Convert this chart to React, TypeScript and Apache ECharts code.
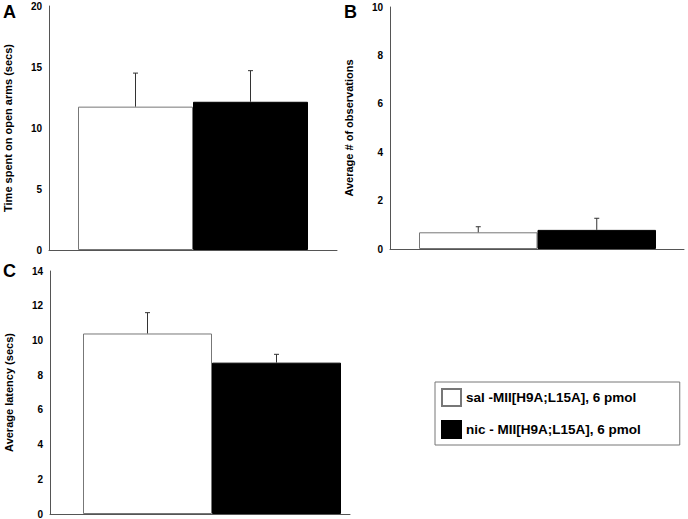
import React, { useEffect, useRef } from "react";
import * as echarts from "echarts";

const categories = ["sal -MII[H9A;L15A], 6 pmol", "nic - MII[H9A;L15A], 6 pmol"];
const panelLetters = ["A", "B", "C"];
const yNames = ["Time spent on open arms (secs)", "Average # of observations", "Average latency (secs)"];
const yMax = [20, 10, 14];
const yInterval = [5, 2, 2];
const salMeans = [11.75, 0.69, 10.4];
const salErrors = [2.75, 0.23, 1.2];
const nicMeans = [12.15, 0.79, 8.72];
const nicErrors = [2.55, 0.48, 0.48];

const FONT = "Liberation Sans";

// layout: axis grid and bar grid for each panel
const axisGrids = [
  { left: 49, top: 6, width: 288, height: 244 },
  { left: 390, top: 7, width: 294, height: 242 },
  { left: 50, top: 271, width: 300, height: 243 },
];
const barGrids = [
  { left: 78, top: 6, width: 230, height: 244 },
  { left: 419, top: 7, width: 237, height: 242 },
  { left: 83, top: 271, width: 258, height: 243 },
];
const letterPos = [
  { left: 3, top: 3 },
  { left: 344, top: 3 },
  { left: 3, top: 262 },
];

export default function App() {
  const ref = useRef<HTMLDivElement>(null);
  useEffect(() => {
    if (!ref.current) return;
    const chart = echarts.init(ref.current, null, { renderer: "svg" });
    const grid: any[] = [];
    const xAxis: any[] = [];
    const yAxis: any[] = [];
    const series: any[] = [];
    for (let p = 0; p < 3; p++) {
      grid.push({ ...axisGrids[p], containLabel: false });
      grid.push({ ...barGrids[p], containLabel: false });
      const gA = 2 * p;
      const gB = 2 * p + 1;
      xAxis.push({
        gridIndex: gA,
        type: "category",
        data: [""],
        axisLine: { show: true, lineStyle: { color: "#555", width: 1 } },
        axisTick: { show: false },
        axisLabel: { show: false },
      });
      xAxis.push({
        gridIndex: gB,
        type: "category",
        data: [""],
        show: false,
      });
      yAxis.push({
        gridIndex: gA,
        type: "value",
        min: 0,
        max: yMax[p],
        interval: yInterval[p],
        name: yNames[p],
        nameLocation: "middle",
        nameGap: 36,
        nameTextStyle: { fontFamily: FONT, fontWeight: "bold", fontSize: 11, color: "#000" },
        axisLine: { show: true, lineStyle: { color: "#555", width: 1 } },
        axisTick: { show: false },
        splitLine: { show: false },
        axisLabel: { fontFamily: FONT, fontWeight: "bold", fontSize: 10, color: "#000", margin: 7 },
      });
      yAxis.push({
        gridIndex: gB,
        type: "value",
        min: 0,
        max: yMax[p],
        show: false,
        splitLine: { show: false },
      });
      const xi = 2 * p + 1;
      series.push({
        type: "bar",
        name: categories[0],
        xAxisIndex: xi,
        yAxisIndex: xi,
        data: [salMeans[p]],
        barGap: "0%",
        barCategoryGap: "0%",
        itemStyle: { color: "#fff", borderColor: "#777", borderWidth: 1 },
      });
      series.push({
        type: "bar",
        name: categories[1],
        xAxisIndex: xi,
        yAxisIndex: xi,
        data: [nicMeans[p]],
        barGap: "0%",
        barCategoryGap: "0%",
        itemStyle: { color: "#000", borderColor: "#000", borderWidth: 1 },
      });
      const groups = [
        { m: salMeans[p], e: salErrors[p], side: -1, nm: "err-sal-" + p },
        { m: nicMeans[p], e: nicErrors[p], side: 1, nm: "err-nic-" + p },
      ];
      for (const g of groups) {
        series.push({
          type: "custom",
          name: g.nm,
          xAxisIndex: xi,
          yAxisIndex: xi,
          z: 10,
          encode: { x: 0, y: 1 },
          data: [[0, g.m, g.e]],
          renderItem: (params: any, api: any) => {
            const c = api.coord([api.value(0), api.value(1)]);
            const t = api.coord([api.value(0), api.value(1) + api.value(2)]);
            const bw = api.size([1, 0])[0];
            const x = c[0] + (g.side * bw) / 4;
            const st = { stroke: "#333", lineWidth: 1 };
            return {
              type: "group",
              children: [
                { type: "line", shape: { x1: x, y1: c[1], x2: x, y2: t[1] }, style: st },
                { type: "line", shape: { x1: x - 2.5, y1: t[1], x2: x + 2.5, y2: t[1] }, style: st },
              ],
            };
          },
        });
      }
    }
    const title = panelLetters.map((l, i) => ({
      text: l,
      left: letterPos[i].left,
      top: letterPos[i].top,
      padding: 0,
      textStyle: { fontFamily: FONT, fontWeight: "bold", fontSize: 18, color: "#000" },
    }));
    chart.setOption({
      animation: false,
      backgroundColor: "#fff",
      title,
      grid,
      xAxis,
      yAxis,
      series,
      legend: {
        data: categories,
        orient: "vertical",
        left: 435,
        top: 382,
        padding: [6, 39, 6, 6],
        itemWidth: 19,
        itemHeight: 17,
        itemGap: 13,
        icon: "rect",
        borderColor: "#777",
        borderWidth: 1,
        selectedMode: false,
        textStyle: { fontFamily: FONT, fontWeight: "bold", fontSize: 13.5, color: "#000", padding: [0, 0, 0, 0] },
      },
    });
    return () => chart.dispose();
  }, []);
  return (
    <div
      ref={ref}
      style={{ position: "fixed", left: 0, top: 0, width: 688, height: 519, background: "#fff" }}
    />
  );
}
